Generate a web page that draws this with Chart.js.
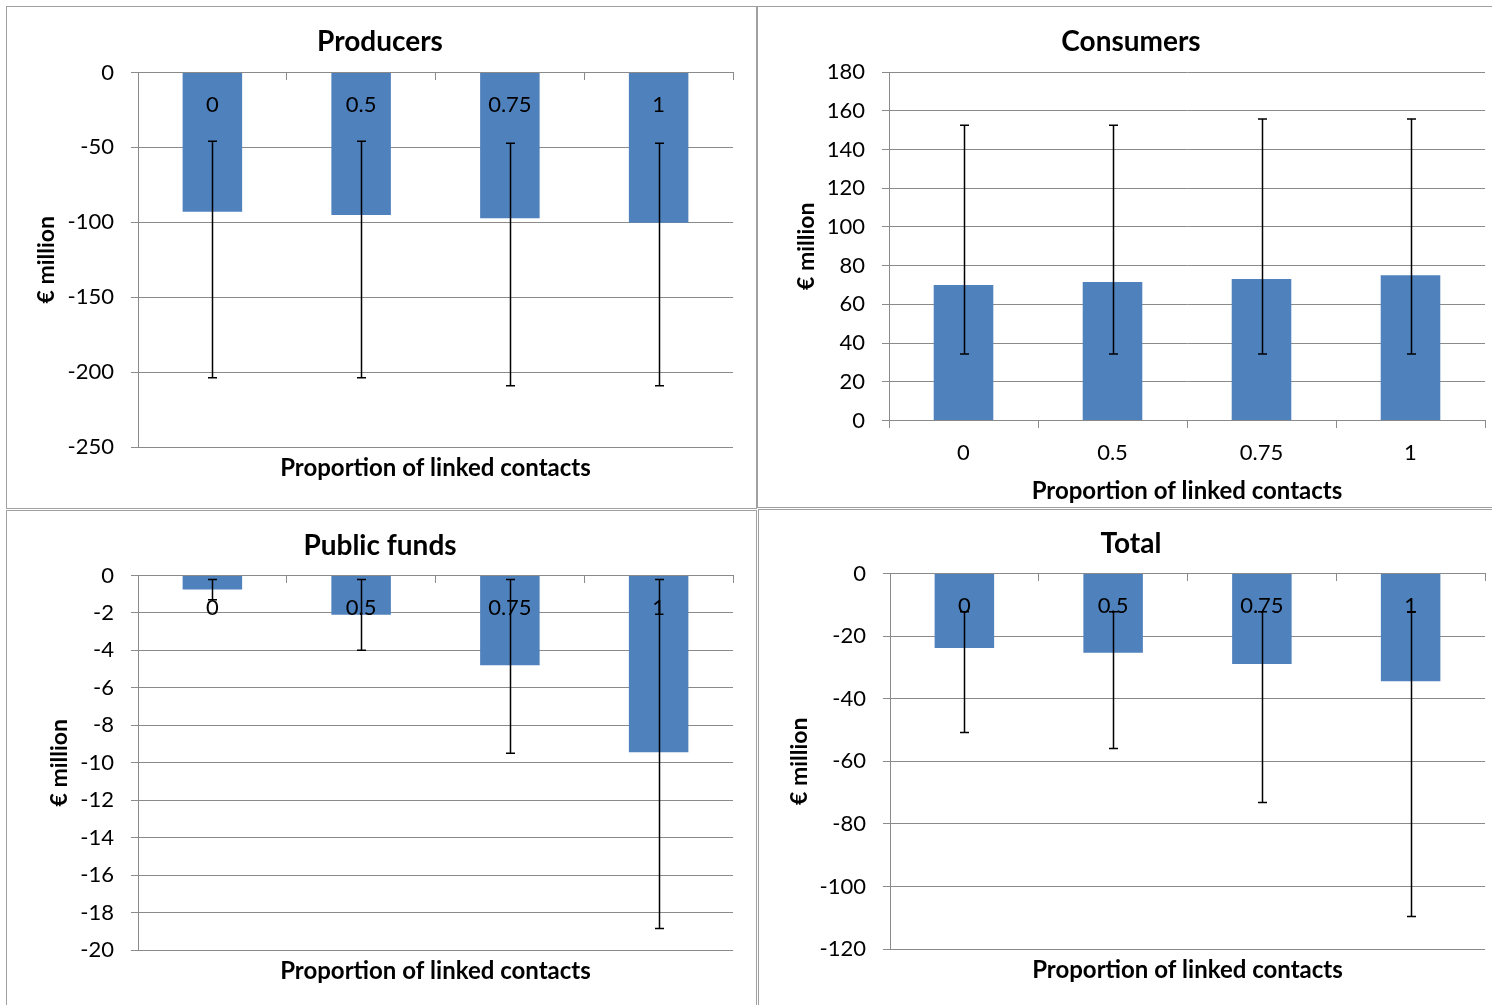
<!DOCTYPE html>
<html>
<head>
<meta charset="utf-8">
<script src="https://cdn.jsdelivr.net/npm/chart.js@4.4.1/dist/chart.umd.min.js"></script>
<style>
  html, body { margin: 0; padding: 0; background: #fff; }
  body { width: 1492px; height: 1005px; position: relative; overflow: hidden; }
  .frame { position: absolute; box-sizing: border-box; border: 1px solid #a0a0a0; }
  canvas { position: absolute; }
</style>
</head>
<body>
<div class="frame" style="left:6px;top:6px;width:751px;height:503px"></div>
<div class="frame" style="left:757px;top:6px;width:740px;height:502px"></div>
<div class="frame" style="left:6px;top:510px;width:751px;height:500px"></div>
<div class="frame" style="left:758px;top:509px;width:740px;height:500px"></div>

<canvas id="producers" width="750" height="501" style="left:7px;top:7px"></canvas>
<canvas id="consumers" width="735" height="500" style="left:757px;top:7px"></canvas>
<canvas id="publicFunds" width="750" height="495" style="left:7px;top:510px"></canvas>
<canvas id="total" width="734" height="495" style="left:758px;top:510px"></canvas>

<script>
// Proportion of linked contacts
const categories = ['0', '0.5', '0.75', '1'];

// Producers (€ million): mean and error bar ends
const producersValues = [-92.9, -95.1, -97.3, -100.3];
const producersErrHigh = [-45.9, -45.9, -47.3, -47.3];
const producersErrLow = [-203.7, -203.7, -209.1, -209.1];

// Consumers (€ million)
const consumersValues = [70.0, 71.5, 73.1, 75.0];
const consumersErrHigh = [152.5, 152.5, 155.7, 155.7];
const consumersErrLow = [34.3, 34.3, 34.3, 34.3];

// Public funds (€ million)
const publicValues = [-0.75, -2.09, -4.79, -9.44];
const publicErrHigh = [-0.21, -0.21, -0.21, -0.21];
const publicErrLow = [-1.3, -3.99, -9.49, -18.85];

// Total (€ million)
const totalValues = [-23.8, -25.3, -28.9, -34.4];
const totalErrHigh = [-12.2, -12.2, -12.2, -12.2];
const totalErrLow = [-50.8, -55.9, -73.2, -109.6];

const FONT = "Lato, 'Open Sans', sans-serif";
const GRID = '#8a8a8a';
const BAR = '#4F81BD';

// Vertical error bars with flat caps, placed through the chart scales
const errorBars = {
  id: 'errorBars',
  afterDraw(chart, args, opts) {
    const ctx = chart.ctx;
    const xs = chart.scales.x, ys = chart.scales.y;
    ctx.save();
    ctx.strokeStyle = '#000';
    ctx.lineWidth = 1.5;
    opts.high.forEach((hi, i) => {
      const px = Math.round(xs.getPixelForValue(i)) + 0.5;
      const yHi = ys.getPixelForValue(hi);
      const yLo = ys.getPixelForValue(opts.low[i]);
      ctx.beginPath();
      ctx.moveTo(px, yHi); ctx.lineTo(px, yLo);
      ctx.moveTo(px - 4.5, yHi); ctx.lineTo(px + 4.5, yHi);
      ctx.moveTo(px - 4.5, yLo); ctx.lineTo(px + 4.5, yLo);
      ctx.stroke();
    });
    ctx.restore();
  }
};

function panel(id, s) {
  return new Chart(document.getElementById(id), {
    type: 'bar',
    data: {
      labels: categories,
      datasets: [{
        data: s.values,
        backgroundColor: BAR,
        borderWidth: 0,
        barPercentage: 0.4,
        categoryPercentage: 1.0
      }]
    },
    plugins: [errorBars],
    options: {
      responsive: false,
      animation: false,
      devicePixelRatio: 1,
      layout: { padding: { left: s.padL, right: s.padR, top: 0, bottom: 0 } },
      plugins: {
        legend: { display: false },
        tooltip: { enabled: false },
        title: {
          display: true,
          text: s.title,
          color: '#000',
          font: { family: FONT, size: 28, weight: 'bold' },
          padding: { top: s.titleTop, bottom: s.titleBottom }
        },
        errorBars: { high: s.errHigh, low: s.errLow }
      },
      scales: {
        x: {
          type: 'category',
          position: 'bottom',
          offset: true,
          grid: { display: false },
          border: { display: false },
          ticks: { display: false },
          title: {
            display: true,
            text: 'Proportion of linked contacts',
            color: '#000',
            font: { family: FONT, size: 24, weight: 'bold' },
            padding: { top: 0, bottom: s.xTitlePad }
          },
          afterFit(scale) { scale.height = s.xHeight; }
        },
        xAxisLine: {
          type: 'category',
          axis: 'x',
          position: { y: 0 },
          offset: true,
          grid: {
            display: true, offset: true, drawOnChartArea: false,
            drawTicks: true, tickLength: 7, color: GRID, lineWidth: 1
          },
          border: { display: true, color: GRID, width: 1, z: 1 },
          ticks: {
            z: 1,
            color: '#000', padding: 12, maxRotation: 0, autoSkip: false,
            font: { family: FONT, size: 22 }
          }
        },
        y: {
          min: s.min,
          max: s.max,
          grid: { color: GRID, lineWidth: 1, tickLength: 7, drawTicks: true },
          border: { display: true, color: GRID, width: 1 },
          ticks: {
            stepSize: s.step,
            color: '#000',
            padding: 17,
            font: { family: FONT, size: 22 }
          },
          title: {
            display: true,
            text: '€ million',
            color: '#000',
            font: { family: FONT, size: 23, weight: 'bold' },
            padding: { top: s.yTitlePad, bottom: 0 }
          },
          afterFit(scale) { scale.width = s.yWidth; }
        }
      }
    }
  });
}

panel('producers', {
  title: 'Producers', values: producersValues,
  errHigh: producersErrHigh, errLow: producersErrLow,
  min: -250, max: 0, step: 50,
  padL: 20, padR: 24, yWidth: 111, yTitlePad: 6.2,
  titleTop: 18.2, titleBottom: 13.7, xHeight: 61, xTitlePad: 25.6
});

panel('consumers', {
  title: 'Consumers', values: consumersValues,
  errHigh: consumersErrHigh, errLow: consumersErrLow,
  min: 0, max: 180, step: 20,
  padL: 20, padR: 7, yWidth: 112, yTitlePad: 16.2,
  titleTop: 18.2, titleBottom: 13.2, xHeight: 86.5, xTitlePad: 1.6
});

panel('publicFunds', {
  title: 'Public funds', values: publicValues,
  errHigh: publicErrHigh, errLow: publicErrLow,
  min: -20, max: 0, step: 2,
  padL: 20, padR: 24, yWidth: 111, yTitlePad: 19.2,
  titleTop: 19.2, titleBottom: 12.7, xHeight: 55, xTitlePad: 19.6
});

panel('total', {
  title: 'Total', values: totalValues,
  errHigh: totalErrHigh, errLow: totalErrLow,
  min: -120, max: 0, step: 20,
  padL: 19, padR: 7, yWidth: 113, yTitlePad: 9.2,
  titleTop: 17.2, titleBottom: 12.7, xHeight: 56, xTitlePad: 20.6
});
</script>
</body>
</html>
